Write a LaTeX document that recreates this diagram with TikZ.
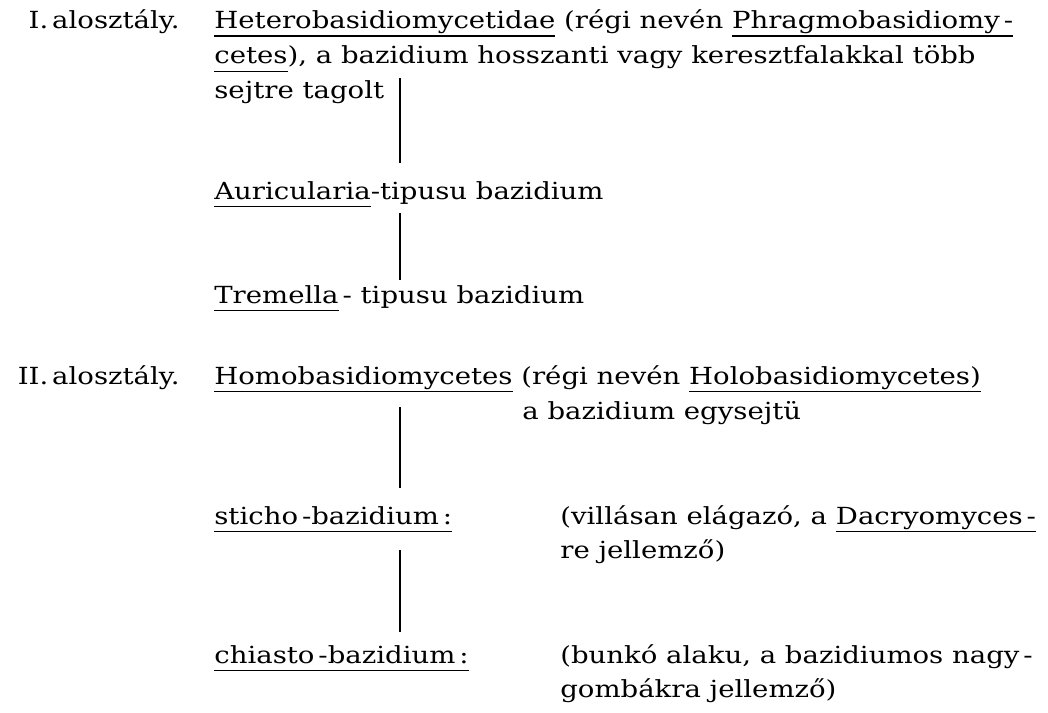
\documentclass[tikz,border=0pt]{standalone}
\usepackage{fontspec}
\setmainfont{DejaVu Serif}[FakeStretch=1.17]
\usepackage{tikz}
\usetikzlibrary{positioning}

% underlined word, rule at a fixed depth
\newcommand{\ulw}[1]{\setbox0\hbox{#1}\rlap{\rule[-4.6pt]{\wd0}{0.9pt}}\box0\relax}

\begin{document}
\begin{tikzpicture}[x=0.02cm, y=-0.02cm,
  txt/.style={anchor=base west, inner sep=0pt, font=\fontsize{13.4}{16}\selectfont},
  lbl/.style={anchor=base east, inner sep=0pt, font=\fontsize{13.4}{16}\selectfont},
  stem/.style={line width=0.9pt}]
  \useasboundingbox (0,0) rectangle (1048,713);

  % I. alosztaly
  \node[lbl] (cls1) at (180, 29) {I.\,alosztály.};
  \node[txt] (hetA) at (214, 29) {\ulw{Heterobasidiomycetidae} (régi nevén \ulw{Phragmobasidiomy\,-}};
  \node[txt] (hetB) at (214, 64) {\ulw{cetes}), a bazidium hosszanti vagy keresztfalakkal több};
  \node[txt] (hetC) at (214, 99) {sejtre tagolt};
  \node[txt] (auri) at (214, 199) {\ulw{Auricularia}-tipusu bazidium};
  \node[txt] (trem) at (214, 303) {\ulw{Tremella}\,- tipusu bazidium};
  \coordinate (s1) at (400, 78);
  \coordinate (e1) at (400, 163);
  \coordinate (s2) at (400, 213);
  \coordinate (e2) at (400, 280);
  \draw[stem] (s1) -- (e1);
  \draw[stem] (s2) -- (e2);

  % II. alosztaly
  \node[lbl] (cls2) at (180, 384) {II.\,alosztály.};
  \node[txt] (homA) at (214, 384) {\ulw{Homobasidiomycetes} (régi nevén \ulw{Holobasidiomycetes)}};
  \node[txt] (homB) at (522, 419) {a bazidium egysejtü};
  \node[txt] (stich) at (214, 524) {\ulw{sticho\,-bazidium\,:}};
  \node[txt] (stA) at (560, 524) {(villásan elágazó, a \ulw{Dacryomyces\,-}};
  \node[txt] (stB) at (560, 558) {re jellemző)};
  \node[txt] (chia) at (214, 663) {\ulw{chiasto\,-bazidium\,:}};
  \node[txt] (chA) at (560, 663) {(bunkó alaku, a bazidiumos nagy\,-};
  \node[txt] (chB) at (560, 697) {gombákra jellemző)};
  \coordinate (s3) at (400, 407);
  \coordinate (e3) at (400, 488);
  \coordinate (s4) at (400, 550);
  \coordinate (e4) at (400, 632);
  \draw[stem] (s3) -- (e3);
  \draw[stem] (s4) -- (e4);
\end{tikzpicture}
\end{document}
